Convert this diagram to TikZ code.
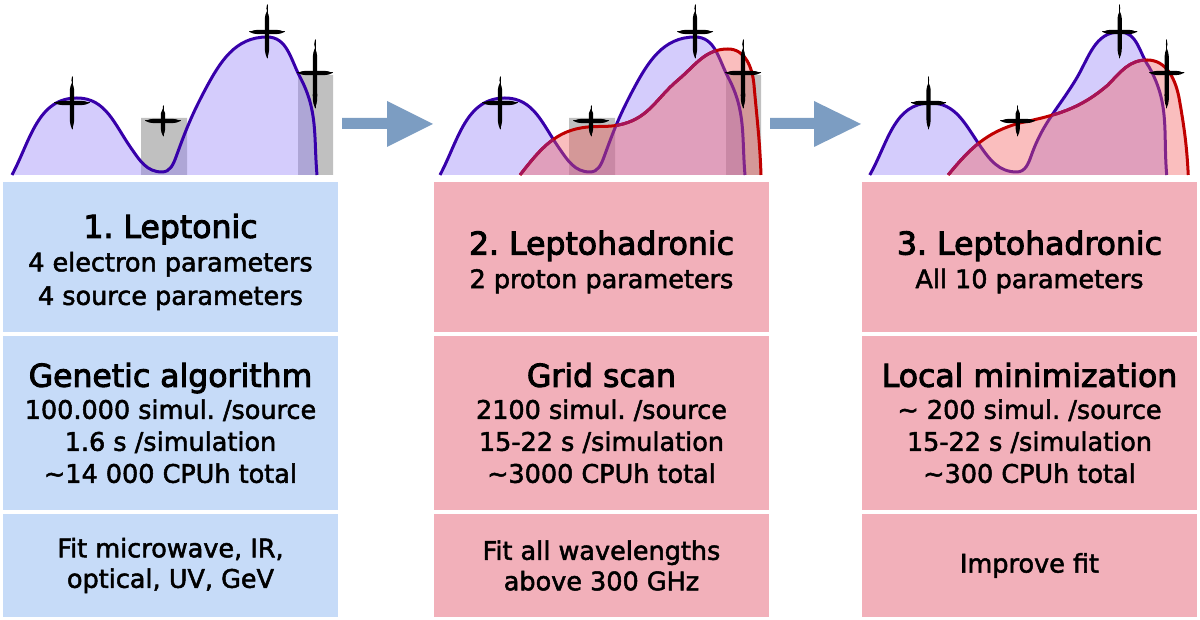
\documentclass[tikz,border=0pt]{standalone}
\usepackage{fontspec}
\setmainfont{DejaVu Sans}[FakeBold=2]
\newfontfamily\headfont{DejaVu Sans}[FakeBold=3]
\usetikzlibrary{positioning}

\definecolor{cellblue}{RGB}{198,219,248}
\definecolor{cellpink}{RGB}{242,176,186}
\definecolor{arrowblue}{RGB}{124,157,194}
\definecolor{bargrey}{RGB}{192,192,192}
\definecolor{specblue}{RGB}{55,0,170}
\definecolor{specred}{RGB}{192,0,0}
\definecolor{specmaroon}{RGB}{165,20,90}
\definecolor{lepfillc}{RGB}{147,128,247}
\definecolor{hadfillc}{RGB}{242,92,92}

\tikzset{
  cell/.style={minimum width=335pt, inner sep=0pt, outer sep=0pt, align=center,
    font=\frenchspacing\fontsize{25.5}{32}\selectfont},
  bluecell/.style={cell, fill=cellblue},
  pinkcell/.style={cell, fill=cellpink},
  toprow/.style={minimum height=150pt, font=\frenchspacing\fontsize{25.5}{33.5}\selectfont},
  fitrow/.style={minimum height=103pt, font=\frenchspacing\fontsize{25.5}{30.5}\selectfont},
  lepfill/.style={fill=lepfillc, fill opacity=0.4},
  hadfill/.style={fill=hadfillc, fill opacity=0.4},
  lepline/.style={draw=specblue, line width=3pt},
  hadline/.style={draw=specred, line width=3pt},
  errbar/.style={line width=1pt, line cap=round},
  flowarrow/.style={fill=arrowblue}
}

\newcommand{\stagehead}[1]{{\headfont\fontsize{31.5}{36}\selectfont #1}}

%% Spectra (baseline at y=0)
\newcommand{\leppath}{(12,0) to[out=62,in=180] (77,77) to[out=0,in=125] (131,27)
  to[out=-55,in=180] (162,3) to[out=0,in=-110] (176,18) to[out=70,in=-118] (205,85)
  to[out=62,in=180] (267,138) to[out=0,in=118] (300,98) to[out=-62,in=95] (317,0)}
\newcommand{\leppathb}{(12,0) to[out=60,in=180] (74,72) to[out=0,in=125] (124,30)
  to[out=-55,in=180] (162,3) to[out=0,in=-110] (177,20) to[out=70,in=-122] (222,95)
  to[out=58,in=180] (267,143) to[out=0,in=125] (297,108) to[out=-60,in=95] (315,0)}
\newcommand{\hadpath}{(92,0) to[out=52,in=185] (160,48) to[out=5,in=-165] (195,51)
  to[out=15,in=-140] (250,95) to[out=40,in=180] (300,126) to[out=0,in=95] (326,90)
  to[out=-85,in=92] (333,0)}
\newcommand{\hadpathb}{(92,0) to[out=50,in=-165] (165,52) to[out=12,in=-140] (255,90)
  to[out=45,in=180] (295,115) to[out=0,in=100] (328,75) to[out=-80,in=93] (337,0)}
%% hand drawn error crosses
\newcommand{\databars}{%
  \foreach \cx/\cy/\dn/\up in {72/72/26/26, 163/54/15/15, 267/143/26/27, 315/102/35/33}{
    \fill (\cx-17.5,\cy) to[out=25,in=180] (\cx-9,\cy+2.2) -- (\cx+9,\cy+2.2)
      to[out=0,in=155] (\cx+17.5,\cy) to[out=205,in=0] (\cx+9,\cy-2.2)
      -- (\cx-9,\cy-2.2) to[out=180,in=-25] (\cx-17.5,\cy);
    \fill (\cx,\cy-\dn) to[out=65,in=-90] (\cx+2.2,\cy-\dn/2) -- (\cx+2.2,\cy+\up/2)
      to[out=90,in=-115] (\cx,\cy+\up) to[out=-65,in=90] (\cx-2.2,\cy+\up/2)
      -- (\cx-2.2,\cy-\dn/2) to[out=-90,in=115] (\cx,\cy-\dn);
    \draw[errbar] (\cx-17.5,\cy) -- (\cx+17.5,\cy) (\cx,\cy-\dn) -- (\cx,\cy+\up);
  }}

\begin{document}
\begin{tikzpicture}[x=1pt, y=1pt]
\useasboundingbox (0,0) rectangle (1200,620);

%% Panel 1
\begin{scope}[shift={(0,445)}]
    \fill[bargrey] (141,0) rectangle (187,57) (298,0) rectangle (333,100);
    \fill[lepfill] \leppath -- cycle;
    \draw[lepline] \leppath;
    \databars
\end{scope}

%% Panel 2
\begin{scope}[shift={(428,445)}]
    \fill[bargrey] (141,0) rectangle (187,57) (298,0) rectangle (333,100);
    \fill[lepfill] \leppath -- cycle;
    \draw[lepline] \leppath;
    \fill[hadfill] \hadpath -- cycle;
    \draw[hadline] \hadpath;
    \begin{scope}
        \clip \leppath -- cycle;
        \draw[hadline, draw=specmaroon] \hadpath;
    \end{scope}
    \databars
\end{scope}

%% Panel 3
\begin{scope}[shift={(858,445)}, xscale=0.98]
    \fill[lepfill] \leppathb -- cycle;
    \draw[lepline] \leppathb;
    \fill[hadfill] \hadpathb -- cycle;
    \draw[hadline] \hadpathb;
    \begin{scope}
        \clip \leppathb -- cycle;
        \draw[hadline, draw=specmaroon] \hadpathb;
    \end{scope}
    \databars
\end{scope}

%% Arrows
\fill[flowarrow] (342,491) -- (387,491) -- (387,473) -- (433,496)
    -- (387,519) -- (387,502) -- (342,502) -- cycle;
\fill[flowarrow] (770,491) -- (814,491) -- (814,473) -- (861,496)
    -- (814,519) -- (814,502) -- (770,502) -- cycle;

%% Stage 1
\node[bluecell, toprow] (stage1) at (170.5,363)
    {\stagehead{1. Leptonic}\rule{0pt}{34pt}\\4 electron parameters\\4 source parameters};
\node[bluecell, minimum height=174pt, below=4pt of stage1] (algo1)
    {\stagehead{Genetic algorithm}\\100.000 simul. /source\\1.6 s /simulation\\\textasciitilde14 000 CPUh total};
\node[bluecell, fitrow, below=4pt of algo1] (fit1)
    {Fit microwave, IR,\\optical, UV, GeV};

%% Stage 2
\node[pinkcell, toprow] (stage2) at (601.5,363)
    {\stagehead{2. Leptohadronic}\rule{0pt}{34pt}\\2 proton parameters};
\node[pinkcell, minimum height=174pt, below=4pt of stage2] (algo2)
    {\stagehead{Grid scan}\\2100 simul. /source\\15-22 s /simulation\\\textasciitilde3000 CPUh total};
\node[pinkcell, fitrow, below=4pt of algo2] (fit2)
    {Fit all wavelengths\\above 300 GHz};

%% Stage 3
\node[pinkcell, toprow] (stage3) at (1029.5,363)
    {\stagehead{3. Leptohadronic}\rule{0pt}{34pt}\\All 10 parameters};
\node[pinkcell, minimum height=174pt, below=4pt of stage3] (algo3)
    {\stagehead{Local minimization}\\\textasciitilde{} 200 simul. /source\\15-22 s /simulation\\\textasciitilde300 CPUh total};
\node[pinkcell, fitrow, below=4pt of algo3] (fit3)
    {Improve fit};
\end{tikzpicture}
\end{document}
